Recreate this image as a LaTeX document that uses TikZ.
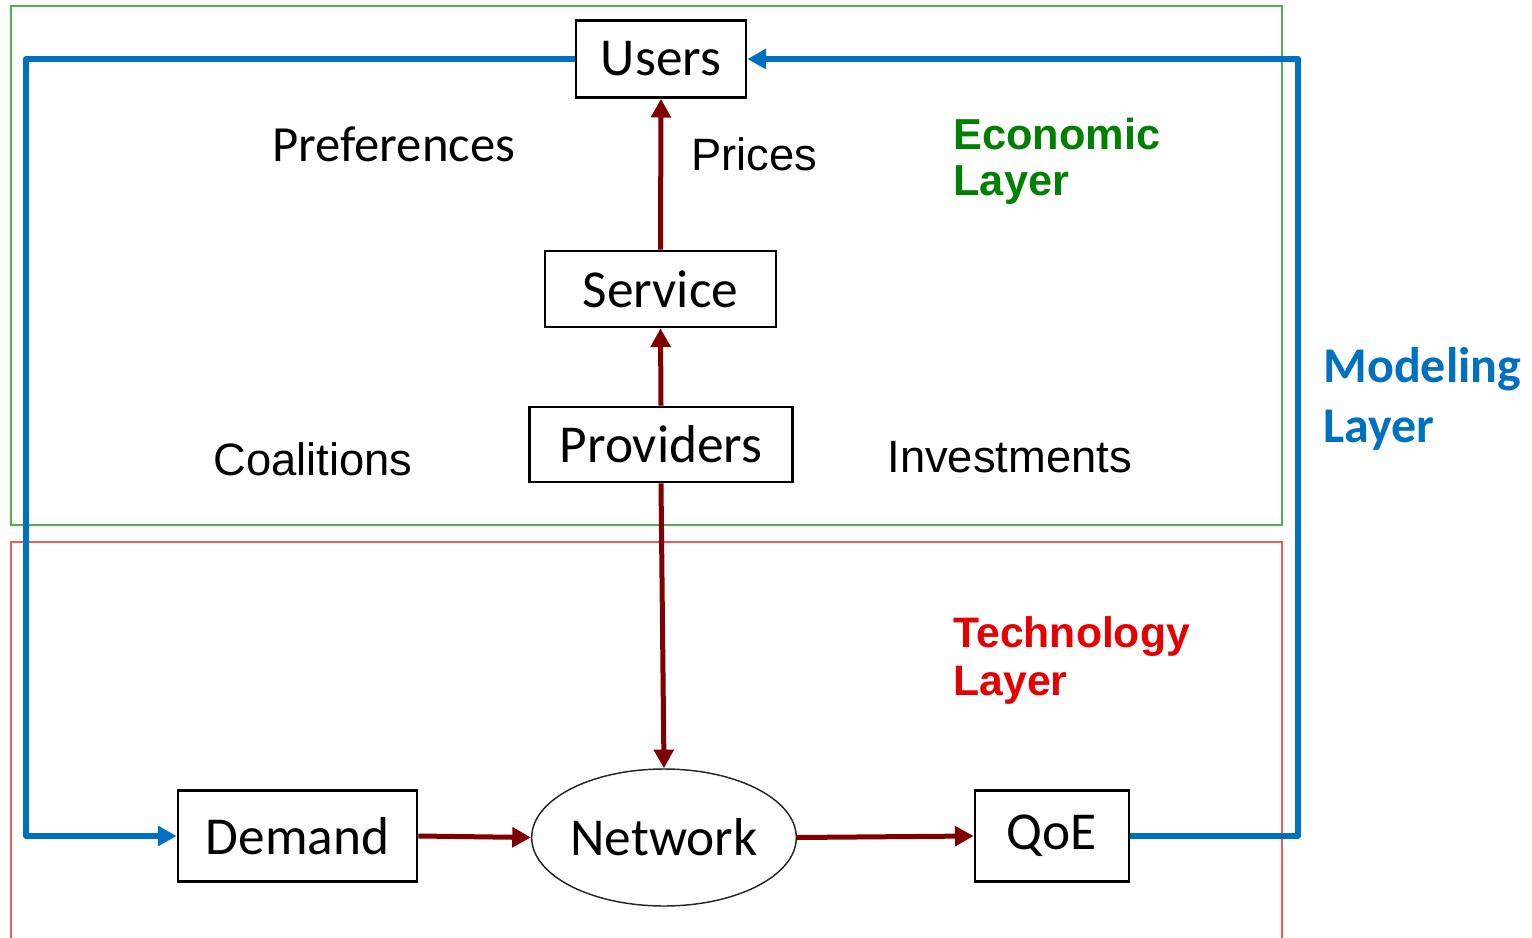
\documentclass[tikz,border=0pt]{standalone}
\usepackage{fontspec}
\usetikzlibrary{arrows.meta,shapes.geometric}
\newfontfamily\calibrifont{Carlito}
\newfontfamily\arialfont{Liberation Sans}
\definecolor{ecogreen}{RGB}{0,128,0}
\definecolor{framegreen}{RGB}{80,176,80}
\definecolor{techred}{RGB}{230,0,0}
\definecolor{framered}{RGB}{240,90,90}
\definecolor{modblue}{RGB}{0,112,192}
\definecolor{flowred}{RGB}{128,0,0}

\tikzset{every picture/.style={line width=0.75pt}}
\tikzset{
  blockbox/.style={draw=black, line width=2pt, inner sep=0pt, font=\calibrifont\fontsize{40}{48}\selectfont},
  flowarrow/.style={draw=flowred, line width=3.75pt, -{Triangle[length=14pt,width=14.5pt]}},
  loopline/.style={draw=modblue, line width=4pt, line join=round, -{Triangle[length=14pt,width=14.5pt]}},
  sidelabel/.style={anchor=base west, inner sep=0pt, font=\arialfont\fontsize{34}{40}\selectfont},
  layerlabel/.style={anchor=base west, inner sep=0pt, align=left}
}

\begin{document}
\begin{tikzpicture}[x=0.75pt,y=0.75pt,yscale=-1,xscale=1]
\useasboundingbox (0,0) rectangle (1532,938);

%Shape: Rectangle (economic layer)
\draw [framegreen, line width=1pt] (11,6) rectangle (1282,525);
%Shape: Rectangle (technology layer)
\draw [framered, line width=1pt] (11,542) rectangle (1282,950);

%Blocks
\node [blockbox, minimum width=127.5pt, minimum height=57.75pt] (users) at (661,59) {Users};
\node [blockbox, minimum width=173.25pt, minimum height=57pt] (serv) at (660.5,289) {Service};
\node [blockbox, minimum width=197.25pt, minimum height=56.25pt] (prov) at (661,444.5) {Providers};
\node [blockbox, minimum width=179.25pt, minimum height=68.25pt] (dem) at (297.5,836) {Demand};
\node [blockbox, minimum width=115.5pt, minimum height=68.25pt] (qoe) at (1052,836) {QoE};
%Shape: Ellipse
\node [ellipse, draw=black!85, line width=1.1pt, inner sep=0pt, minimum width=192pt, minimum height=102.75pt, font=\calibrifont\fontsize{40}{48}\selectfont] (net) at (664,837.5) {Network};

%Flow arrows
\draw [flowarrow] (prov.north) -- (serv.south);
\draw [flowarrow] (serv.north) -- (users.south);
\draw [flowarrow] (prov.south) -- (net.north);
\draw [flowarrow] (dem.east) -- (net.west);
\draw [flowarrow] (net.east) -- (qoe.west);

%Modeling loop
\coordinate (rtop) at (1298,59);
\coordinate (lbot) at (26,836);
\draw [loopline] (qoe.east) -| (rtop) -- (users.east);
\draw [loopline] (users.west) -| (lbot) -- (dem.west);

% Text Node
\node [anchor=base west, inner sep=0pt, font=\calibrifont\fontsize{38}{45}\selectfont] (pref) at (272,162) {Preferences};
% Text Node
\node [sidelabel] (price) at (691,171) {Prices};
% Text Node
\node [sidelabel] (coal) at (213,475) {Coalitions};
% Text Node
\node [sidelabel] (inv) at (887,472) {Investments};
% Text Node (base is the last line)
\node [layerlabel, text=ecogreen, font=\arialfont\bfseries\fontsize{32.5}{35.25}\selectfont] (eco) at (953,196) {Economic\\Layer};
% Text Node
\node [layerlabel, text=techred, font=\arialfont\bfseries\fontsize{32}{36}\selectfont] (tech) at (953,695) {Technology\\Layer};
% Text Node
\node [layerlabel, text=modblue, font=\calibrifont\bfseries\fontsize{37.5}{45}\selectfont] (mod) at (1323,442) {Modeling\\Layer};

\end{tikzpicture}
\end{document}
